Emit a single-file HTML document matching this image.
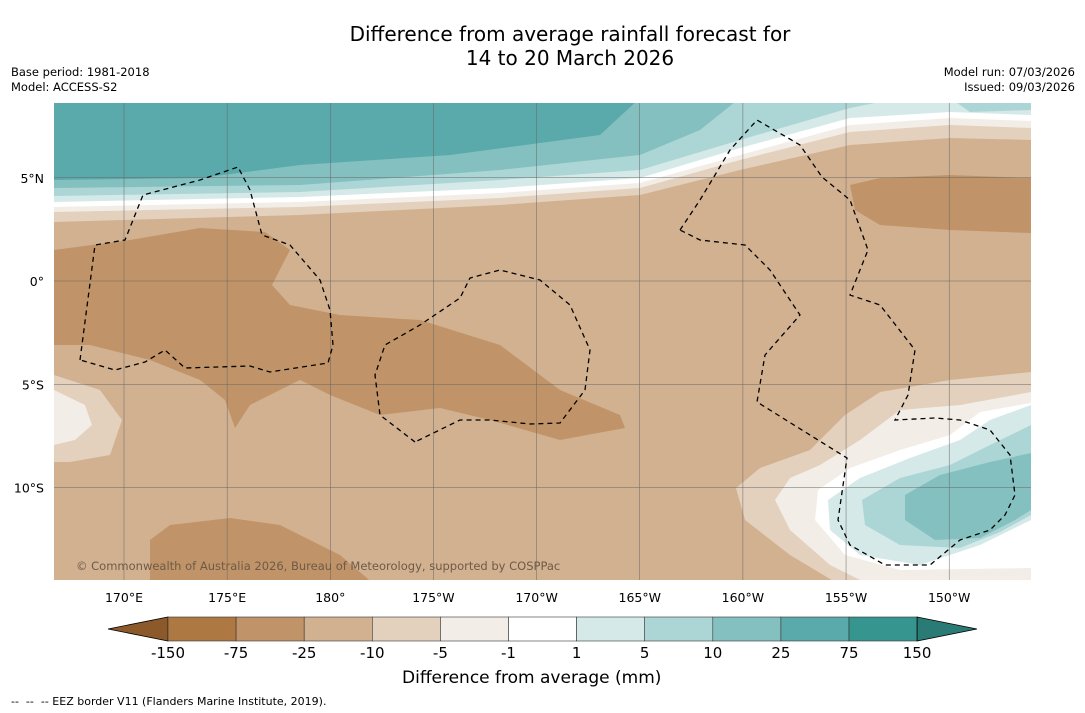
<!DOCTYPE html>
<html><head><meta charset="utf-8"><style>
body{margin:0;background:#fff;font-family:"DejaVu Sans","Liberation Sans",sans-serif;}
#wrap{position:relative;width:1085px;height:713px;overflow:hidden;background:#fff}
.t{position:absolute;white-space:nowrap;color:#000}
</style></head><body>
<div id="wrap">
<div class="t" style="left:0;width:1140px;top:22px;text-align:center;font-size:20px;line-height:24px">Difference from average rainfall forecast for<br>14 to 20 March 2026</div>
<div class="t" style="left:11px;top:65px;font-size:11.5px;line-height:15px">Base period: 1981-2018<br>Model: ACCESS-S2</div>
<div class="t" style="right:10px;top:65px;font-size:11.5px;line-height:15px;text-align:right">Model run: 07/03/2026<br>Issued: 09/03/2026</div>
<svg id="svg" width="1085" height="713" style="position:absolute;left:0;top:0">
<defs><clipPath id="mc"><rect x="54" y="103" width="977" height="477"/></clipPath></defs>
<g id="map" clip-path="url(#mc)"></g>
<g id="cb"></g>
</svg>
<div class="t" style="left:402px;top:668px;font-size:17px">Difference from average (mm)</div>
<div class="t" style="left:11px;top:695px;font-size:11px">-- &nbsp;-- &nbsp;-- EEZ border V11 (Flanders Marine Institute, 2019).</div>
</div>
<script>
const levels=["-150","-75","-25","-10","-5","-1","1","5","10","25","75","150"];
const colors=["#ad7842","#c09468","#d2b190","#e3d0bd","#f2ede6","#ffffff","#d5e9e8","#acd6d5","#84c0bf","#5aaaab","#36958f"];
const lonLabels=["170°E","175°E","180°","175°W","170°W","165°W","160°W","155°W","150°W"];
const latLabels=["5°N","0°","5°S","10°S"];
const lonVals=[170,175,180,185,190,195,200,205,210];
const latVals=[5,0,-5,-10];
const NS="http://www.w3.org/2000/svg";
const FF="DejaVu Sans, Liberation Sans, sans-serif";
const X=l=>124+(l-170)*20.63, Y=a=>281-a*20.65;
const map=document.getElementById('map'), svg=document.getElementById('svg'), cb=document.getElementById('cb');
function mk(p,tag,at){const e=document.createElementNS(NS,tag);for(const k in at)e.setAttribute(k,at[k]);p.appendChild(e);return e;}
function poly(pts,fill,name){const e=mk(map,'polygon',{points:pts.map(p=>p.join(',')).join(' '),fill:fill});

}
mk(map,'rect',{x:54,y:103,width:977,height:477,fill:colors[2]});
const north=[
[3,[[54,222],[300,215],[500,205],[640,195],[740,170],[850,145],[950,138],[1031,140]]],
[4,[[54,212],[300,207],[500,198],[640,188],[740,160],[850,132],[950,125],[1031,128]]],
[5,[[54,207],[300,202],[500,193],[640,183],[740,155],[850,125],[950,118],[1031,121]]],
[6,[[54,202],[300,197],[500,188],[640,178],[740,148],[850,118],[950,112],[1031,115]]],
[7,[[54,196],[300,192],[500,180],[640,170],[740,140],[850,108],[900,98]]],
[8,[[54,188],[300,185],[500,170],[640,155],[700,130],[740,98]]],
[9,[[54,180],[200,178],[300,165],[450,155],[600,135],[640,98]]]];
north.forEach(([c,p])=>poly([[54,98],...p,[1031,98]],colors[c],'north-band-'+levels[c]));
poly([[950,98],[970,112],[1031,110],[1031,98]],colors[7],'north-east-band');
poly([[850,185],[880,178],[950,175],[1031,178],[1031,233],[950,230],[880,225],[855,210]],colors[1],'dry-patch-east');
poly([[54,250],[130,240],[200,228],[265,232],[290,250],[272,285],[290,305],[340,315],[420,320],[500,345],[560,390],[620,415],[625,428],[560,440],[490,420],[440,408],[380,415],[330,395],[300,380],[250,405],[235,428],[225,400],[200,380],[150,360],[90,345],[54,345]],colors[1],'dry-band-central');
poly([[150,540],[170,525],[230,518],[280,525],[340,555],[375,585],[150,585]],colors[1],'dry-patch-south');
const se=[
[3,[[1031,372],[950,380],[880,392],[845,415],[810,450],[760,468],[736,488],[745,520],[790,555],[840,585],[1031,585]]],
[4,[[1031,392],[960,405],[900,410],[860,440],[820,465],[790,478],[775,500],[790,530],[830,565],[870,585],[1031,585]]],
[5,[[1031,403],[980,412],[950,435],[900,450],[850,468],[818,490],[815,520],[845,555],[900,570],[1031,568]]],
[6,[[1031,405],[990,420],[960,440],[910,458],[860,478],[828,500],[830,530],[860,555],[920,565],[980,545],[1031,520]]],
[7,[[1031,425],[990,445],[950,465],[900,478],[862,500],[865,525],[900,545],[960,548],[1000,532],[1031,515]]],
[8,[[1031,453],[990,462],[940,475],[905,495],[905,520],[935,540],[980,538],[1015,520],[1031,510]]]];
se.forEach(([c,p])=>poly(p,colors[c],'south-east-band-'+levels[c]));
poly([[54,375],[100,390],[122,420],[110,455],[70,462],[54,462]],colors[3],'west-lobe-outer');
poly([[54,390],[85,405],[92,425],[75,440],[54,445]],colors[4],'west-lobe-inner');
lonVals.forEach((v,i)=>{const l=mk(map,'line',{x1:X(v),x2:X(v),y1:103,y2:580,stroke:'#666','stroke-width':0.5});

const t=mk(svg,'text',{x:X(v),y:602,'font-size':12.5,'text-anchor':'middle','font-family':FF});t.textContent=lonLabels[i];
});
latVals.forEach((v,i)=>{const l=mk(map,'line',{x1:54,x2:1031,y1:Y(v),y2:Y(v),stroke:'#666','stroke-width':0.5});

const t=mk(svg,'text',{x:44,y:Y(v)+5,'font-size':12.5,'text-anchor':'end','font-family':FF});t.textContent=latLabels[i];
});
const eez=[
[[80,360],[95,245],[125,240],[143,195],[200,180],[238,167],[250,190],[262,235],[290,245],[320,280],[330,310],[333,345],[328,363],[270,372],[250,366],[185,368],[165,350],[145,362],[115,370],[80,360]],
[[415,442],[380,415],[375,375],[385,345],[420,325],[460,298],[470,278],[500,270],[540,280],[570,305],[590,350],[585,390],[560,423],[530,424],[490,420],[460,420],[415,442]],
[[680,230],[700,200],[730,150],[757,120],[800,145],[822,177],[850,200],[868,250],[850,295],[880,305],[915,350],[908,395],[895,420],[935,418],[960,420],[990,430],[1010,455],[1015,495],[1005,515],[990,530],[960,540],[930,565],[885,565],[850,545],[838,520],[847,458],[757,402],[765,355],[800,315],[770,270],[745,245],[700,240],[680,230]]];
eez.forEach(p=>{const e=mk(map,'polyline',{points:p.map(q=>q.join(',')).join(' '),fill:'none',stroke:'#000','stroke-width':1.3,'stroke-dasharray':'5,4'});
});
const cp=mk(map,'text',{x:76,y:570,'font-size':11.5,fill:'#6e5a48','font-family':FF});cp.textContent='© Commonwealth of Australia 2026, Bureau of Meteorology, supported by COSPPac';

const x0=168,w=68.1,y0=617,h=24;
mk(cb,'polygon',{points:`108,629 ${x0},${y0} ${x0},${y0+h}`,fill:'#8c5a2a',stroke:'#000','stroke-width':0.8});
colors.forEach((c,i)=>{const r=mk(cb,'rect',{x:x0+i*w,y:y0,width:w,height:h,fill:c,stroke:'#333','stroke-width':0.6});
});
mk(cb,'polygon',{points:`${x0+11*w},${y0} 977,629 ${x0+11*w},${y0+h}`,fill:'#2a7a76',stroke:'#000','stroke-width':0.8});
levels.forEach((l,i)=>{const t=mk(cb,'text',{x:x0+i*w,y:658,'font-size':15,'text-anchor':'middle','font-family':FF});t.textContent=l;
});
</script>
</body></html>
